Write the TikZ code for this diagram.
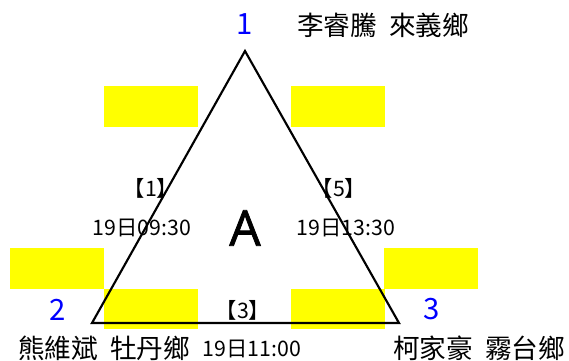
\documentclass[tikz,border=0pt]{standalone}
\usepackage{fontspec}
\setmainfont{Noto Sans CJK TC}
\newfontfamily\letterfont[FakeBold=1.6]{Open Sans}
\definecolor{hlyellow}{RGB}{255,255,0}
\definecolor{numblue}{RGB}{0,0,255}
\begin{document}
\begin{tikzpicture}[x=0.75pt,y=-0.75pt,
  ybox/.style={fill=hlyellow},
  vnum/.style={text=numblue,font=\fontsize{22}{24}\selectfont,inner sep=0pt},
  pname/.style={font=\fontsize{20}{22}\selectfont,inner sep=0pt,anchor=west},
  tlabel/.style={font=\fontsize{16}{18}\selectfont,inner sep=0pt},
  edgelabel/.style={font=\fontsize{16}{18}\selectfont,inner sep=0pt},
  triline/.style={draw=black,line width=1.6pt,line join=miter}]
\useasboundingbox (0,0) rectangle (569,361);
% yellow boxes
\fill[ybox] (104,86) rectangle (198,127);
\fill[ybox] (291,86) rectangle (385,127);
\fill[ybox] (10,248) rectangle (104,289);
\fill[ybox] (104,289) rectangle (198,329);
\fill[ybox] (291,289) rectangle (385,329);
\fill[ybox] (384,248) rectangle (478,289);
% triangle
\coordinate (v1) at (245,51);
\coordinate (v2) at (92,323);
\coordinate (v3) at (399,323);
\draw[triline] (v1) -- (v2) -- (v3) -- cycle;
% vertex numbers
\node[vnum] (n1) at (245,24) {1};
\node[vnum] (n2) at (58,310) {2};
\node[vnum] (n3) at (432,309) {3};
% names
\node[pname] (p1) at (297,25) {李睿騰\hspace{0.45em}來義鄉};
\node[pname] (p2) at (18,348) {熊維斌\hspace{0.45em}牡丹鄉};
\node[pname] (p3) at (393,348) {柯家豪\hspace{0.45em}霧台鄉};
% edge labels
\node[edgelabel] (e1) at (151,188) {【1】};
\node[edgelabel] (e5) at (339,188) {【5】};
\node[edgelabel] (e3) at (243,310) {【3】};
\node[tlabel] (t1) at (142,228) {19日09:30};
\node[tlabel] (t5) at (346,228) {19日13:30};
\node[tlabel] (t3) at (252,349) {19日11:00};
% center letter
\node[font=\letterfont\fontsize{37}{40}\selectfont,inner sep=0pt] (A) at (245,228) {A};
\end{tikzpicture}
\end{document}
